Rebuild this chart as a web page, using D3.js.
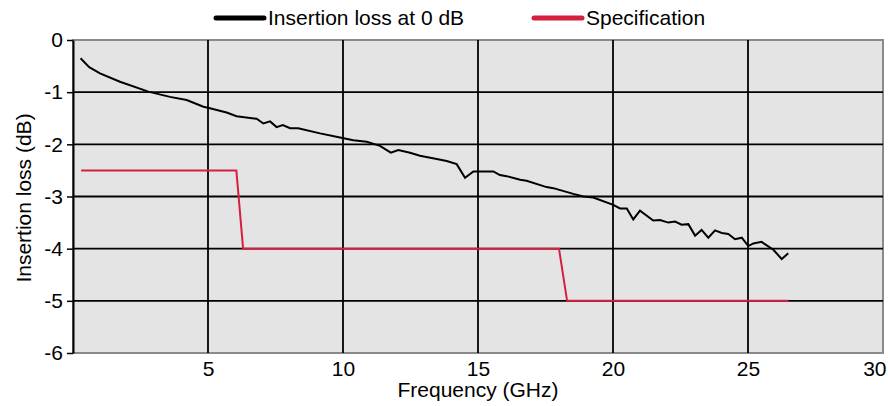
<!DOCTYPE html>
<html>
<head>
<meta charset="utf-8">
<script src="https://cdn.jsdelivr.net/npm/d3@7"></script>
<style>
  body { margin: 0; background: #fff; }
  text { font-family: "Liberation Sans", Arial, sans-serif; fill: #000; }
</style>
</head>
<body>
<div id="chart"></div>
<script>
// measured insertion loss (GHz, dB)
var lossFreq = [0.28, 0.6, 1.0, 1.74, 2.79, 3.59, 4.21, 4.83, 5.0, 5.69, 6.06, 6.8, 7.05, 7.3, 7.54, 7.77, 8.04, 8.34, 9.15, 9.89,
  10.38, 10.88, 11.37, 11.77, 12.05, 12.48, 12.85, 13.47, 13.84, 14.21, 14.52, 14.83, 15.57, 15.81, 16.06, 16.56, 16.8,
  17.54, 17.79, 18.53, 18.9, 19.27, 20.01, 20.26, 20.51, 20.75, 21.0, 21.49, 21.74, 22.05, 22.3, 22.54, 22.79, 23.04,
  23.28, 23.53, 23.78, 24.03, 24.27, 24.52, 24.77, 25.01, 25.2, 25.5, 25.94, 26.25, 26.49];
var lossDb = [-0.35, -0.52, -0.64, -0.80, -0.99, -1.09, -1.15, -1.28, -1.30, -1.39, -1.46, -1.51, -1.60, -1.56, -1.67, -1.63, -1.69, -1.69, -1.79, -1.87,
  -1.92, -1.95, -2.03, -2.16, -2.11, -2.16, -2.22, -2.28, -2.32, -2.38, -2.64, -2.52, -2.52, -2.59, -2.61, -2.68, -2.70,
  -2.82, -2.84, -2.95, -3.00, -3.02, -3.16, -3.23, -3.23, -3.44, -3.27, -3.46, -3.45, -3.50, -3.48, -3.54, -3.53, -3.75,
  -3.64, -3.79, -3.65, -3.70, -3.72, -3.82, -3.79, -3.95, -3.90, -3.87, -4.02, -4.20, -4.09];

// specification limit
var specFreq = [0.3, 6.05, 6.3, 18.0, 18.3, 26.5];
var specDb = [-2.5, -2.5, -4, -4, -5, -5];

var xTicks = [5, 10, 15, 20, 25, 30];
var yTicks = [0, -1, -2, -3, -4, -5, -6];

var width = 888, height = 406;
var margin = {left: 73, right: 5, top: 40, bottom: 53};
var fontSize = '21px';

var svg = d3.select('#chart').append('svg')
    .attr('width', width)
    .attr('height', height);

var x = d3.scaleLinear().domain([0, 30]).range([margin.left, width - margin.right]);
var y = d3.scaleLinear().domain([0, -6]).range([margin.top, height - margin.bottom]);

// plot background
svg.append('rect')
    .attr('x', x(0)).attr('y', y(0))
    .attr('width', x(30) - x(0)).attr('height', y(-6) - y(0))
    .attr('fill', '#e4e4e4')
    .attr('stroke', '#8a8a8a')
    .attr('stroke-width', 2);

// grid
svg.selectAll('.vgrid').data(xTicks.slice(0, 5)).enter().append('line')
    .attr('x1', function(d) { return x(d); }).attr('x2', function(d) { return x(d); })
    .attr('y1', y(0)).attr('y2', y(-6))
    .attr('stroke', '#000').attr('stroke-width', 1.8);
svg.selectAll('.hgrid').data(yTicks.slice(1, 6)).enter().append('line')
    .attr('x1', x(0)).attr('x2', x(30))
    .attr('y1', function(d) { return y(d); }).attr('y2', function(d) { return y(d); })
    .attr('stroke', '#000').attr('stroke-width', 1.8);

// y axis
var yAxis = svg.append('g')
    .attr('transform', 'translate(' + x(0) + ',0)')
    .call(d3.axisLeft(y).tickValues(yTicks).tickSize(6).tickSizeOuter(0).tickPadding(4)
      .tickFormat(function(d) { return String(d); }));
yAxis.select('.domain').attr('stroke', '#000').attr('stroke-width', 2);
yAxis.selectAll('.tick line').attr('stroke', '#000').attr('stroke-width', 1.5);
yAxis.selectAll('text').attr('font-size', fontSize).attr('font-family', '"Liberation Sans", Arial, sans-serif');

// x axis labels
var xAxis = svg.append('g')
    .attr('transform', 'translate(0,' + y(-6) + ')')
    .call(d3.axisBottom(x).tickValues(xTicks).tickSize(0).tickPadding(8));
xAxis.select('.domain').remove();
xAxis.selectAll('text').attr('font-size', fontSize).attr('font-family', '"Liberation Sans", Arial, sans-serif');
// last label sits against the right edge
xAxis.selectAll('text').filter(function(d) { return d === 30; })
    .attr('text-anchor', 'end').attr('x', 3);

// lines
var line = d3.line()
    .x(function(d) { return x(d[0]); })
    .y(function(d) { return y(d[1]); });

svg.append('path')
    .datum(d3.zip(specFreq, specDb))
    .attr('d', line)
    .attr('fill', 'none')
    .attr('stroke', '#d42040')
    .attr('stroke-width', 2);

svg.append('path')
    .datum(d3.zip(lossFreq, lossDb))
    .attr('d', line)
    .attr('fill', 'none')
    .attr('stroke', '#000')
    .attr('stroke-width', 2);

// axis titles
svg.append('text')
    .attr('x', 478).attr('y', 397)
    .attr('text-anchor', 'middle')
    .attr('font-size', fontSize)
    .text('Frequency (GHz)');
svg.append('text')
    .attr('transform', 'translate(31,' + 198 + ') rotate(-90)')
    .attr('text-anchor', 'middle')
    .attr('font-size', fontSize)
    .text('Insertion loss (dB)');

// legend
var legend = [
  {name: 'Insertion loss at 0 dB', color: '#000', x: 216},
  {name: 'Specification', color: '#d42040', x: 534}
];
var lg = svg.selectAll('.legend').data(legend).enter().append('g')
    .attr('transform', function(d) { return 'translate(' + d.x + ',18)'; });
lg.append('line')
    .attr('x1', 0).attr('x2', 48).attr('y1', 0).attr('y2', 0)
    .attr('stroke', function(d) { return d.color; })
    .attr('stroke-width', 5)
    .attr('stroke-linecap', 'round');
lg.append('text')
    .attr('x', 52).attr('y', 7)
    .attr('font-size', fontSize)
    .text(function(d) { return d.name; });
</script>
</body>
</html>
